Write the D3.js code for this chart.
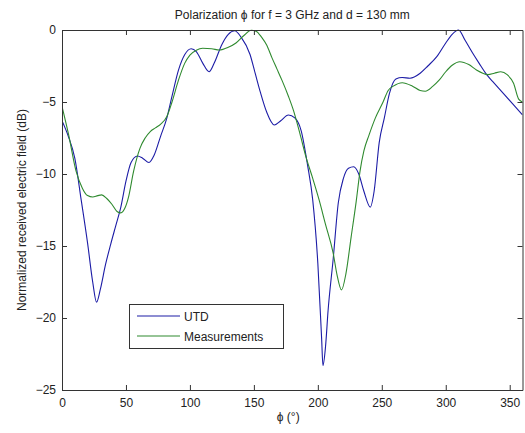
<!DOCTYPE html>
<html><head><meta charset="utf-8">
<script src="https://cdn.jsdelivr.net/npm/d3@7"></script>
<style>body{margin:0;background:#fff}svg{display:block}text{font-family:"Liberation Sans",Arial,sans-serif;fill:#222}</style>
</head><body>
<script>
const utdPhi = [0,5,10,15,20,24,27,30,34,38,42,46,50,54,59,63,68,72,77,82,86,91,96,101,105,110,115,119,125,130,135,140,147,151,155,160,166,171,177,182,187,192,196,200,203,204,206,208,212,216,220,224,228,232,236,241,244,248,252,256,261,266,272,280,286,293,300,305,310,315,321,326,332,338,345,352,360];
const utdVal = [-6.3,-7.4,-8.9,-11.8,-14.8,-17.5,-18.9,-18.0,-16.3,-14.9,-13.6,-12.3,-10.5,-9.2,-8.75,-8.9,-9.2,-8.7,-7.4,-6.1,-4.6,-2.8,-1.7,-1.3,-1.5,-2.3,-2.9,-2.3,-1.0,-0.3,-0.05,-0.5,-1.7,-3.0,-4.3,-5.7,-6.6,-6.3,-5.9,-6.1,-7.0,-9.4,-11.8,-16.2,-21.5,-23.3,-22.0,-19.5,-15.9,-12.0,-10.3,-9.6,-9.5,-10.0,-11.2,-12.3,-11.2,-7.8,-6.1,-4.4,-3.4,-3.3,-3.35,-3.0,-2.5,-1.85,-0.9,-0.3,0,-0.7,-1.6,-2.3,-3.1,-3.7,-4.4,-5.1,-5.9];
const measPhi = [0,5,11,16,20,24,28,31,35,39,43,46,49,52,56,61,65,69,73,77,82,86,91,96,100,105,110,117,123,130,136,142,148,152,156,160,164,168,172,177,181,186,191,196,201,206,212,215,218.5,222,226,230,233,236,240,245,251,255,259,266,274,280,284,290,295,300,305,311,318,324,333,338,343,348,353,357,360];
const measVal = [-5.3,-7.2,-9.8,-11.0,-11.5,-11.6,-11.5,-11.45,-11.7,-12.1,-12.6,-12.7,-12.4,-11.6,-9.8,-8.2,-7.5,-7.05,-6.8,-6.55,-6.0,-5.0,-3.5,-2.3,-1.74,-1.4,-1.27,-1.3,-1.39,-1.2,-0.9,-0.4,-0.02,-0.1,-0.5,-1.05,-1.9,-2.7,-3.5,-4.6,-5.6,-7.2,-8.9,-10.3,-11.8,-13.5,-15.5,-17.0,-18.05,-16.9,-14.4,-11.9,-9.8,-8.4,-7.3,-6.1,-5.0,-4.2,-3.9,-3.66,-3.9,-4.2,-4.25,-3.9,-3.47,-2.9,-2.45,-2.2,-2.4,-2.78,-3.1,-3.0,-2.9,-3.1,-3.7,-4.8,-5.0];
const xTicks = [0,50,100,150,200,250,300,350];
const yTicks = [0,-5,-10,-15,-20,-25];
const seriesNames = ["UTD","Measurements"];
const seriesColors = ["#1c1ca6","#2f8a2f"];

const W=525,H=433, L=62, R=522.5, T=30, B=390;
const svg = d3.select("body").append("svg").attr("width",W).attr("height",H);
const x = d3.scaleLinear().domain([0,360]).range([L,R]);
const y = d3.scaleLinear().domain([-25,0]).range([B,T]);

const ax = "#333";
// lines
const line = d3.line().x(d=>x(d[0])).y(d=>y(d[1])).curve(d3.curveMonotoneX);
const clip = svg.append("clipPath").attr("id","c").append("rect").attr("x",L).attr("y",T-1).attr("width",R-L).attr("height",B-T+2);
const data = [d3.zip(utdPhi,utdVal), d3.zip(measPhi,measVal)];
data.forEach((d,i)=>{
  svg.append("path").attr("d",line(d)).attr("fill","none").attr("stroke",seriesColors[i]).attr("stroke-width",1.1).attr("clip-path","url(#c)");
});

// axes
const gB = svg.append("g").attr("transform",`translate(0,${B})`).call(d3.axisBottom(x).tickValues(xTicks).tickSizeInner(-5).tickSizeOuter(0).tickPadding(8));
const gT = svg.append("g").attr("transform",`translate(0,${T})`).call(d3.axisTop(x).tickValues(xTicks).tickSizeInner(-5).tickSizeOuter(0).tickFormat(""));
const gL = svg.append("g").attr("transform",`translate(${L},0)`).call(d3.axisLeft(y).tickValues(yTicks).tickSizeInner(-5).tickSizeOuter(0).tickPadding(6));
const gR = svg.append("g").attr("transform",`translate(${R},0)`).call(d3.axisRight(y).tickValues(yTicks).tickSizeInner(-5).tickSizeOuter(0).tickFormat(""));
[gB,gT,gL,gR].forEach(g=>{
  g.selectAll("path.domain").attr("stroke",ax);
  g.selectAll("line").attr("stroke",ax);
  g.selectAll("text").attr("font-size",12).attr("fill","#222").attr("font-family","Liberation Sans, Arial, sans-serif");
});

// titles
svg.append("text").attr("x",(L+R)/2).attr("y",19).attr("text-anchor","middle").attr("font-size",12).text("Polarization \u03d5 for f = 3 GHz and d = 130 mm");
svg.append("text").attr("x",(L+R)/2-4).attr("y",421).attr("text-anchor","middle").attr("font-size",12).text("\u03d5 (\u00b0)");
svg.append("text").attr("transform",`translate(26,${(T+B)/2}) rotate(-90)`).attr("text-anchor","middle").attr("font-size",12).text("Normalized received electric field (dB)");

// legend
const lg = svg.append("g");
lg.append("rect").attr("x",129.5).attr("y",304.5).attr("width",154).attr("height",44).attr("fill","#fff").attr("stroke",ax);
seriesNames.forEach((n,i)=>{
  const yy = 316+i*20;
  lg.append("line").attr("x1",137).attr("x2",180).attr("y1",yy).attr("y2",yy).attr("stroke",seriesColors[i]).attr("stroke-width",1.1);
  lg.append("text").attr("x",184).attr("y",yy+4.5).attr("font-size",12).text(n);
});
</script>
</body></html>
